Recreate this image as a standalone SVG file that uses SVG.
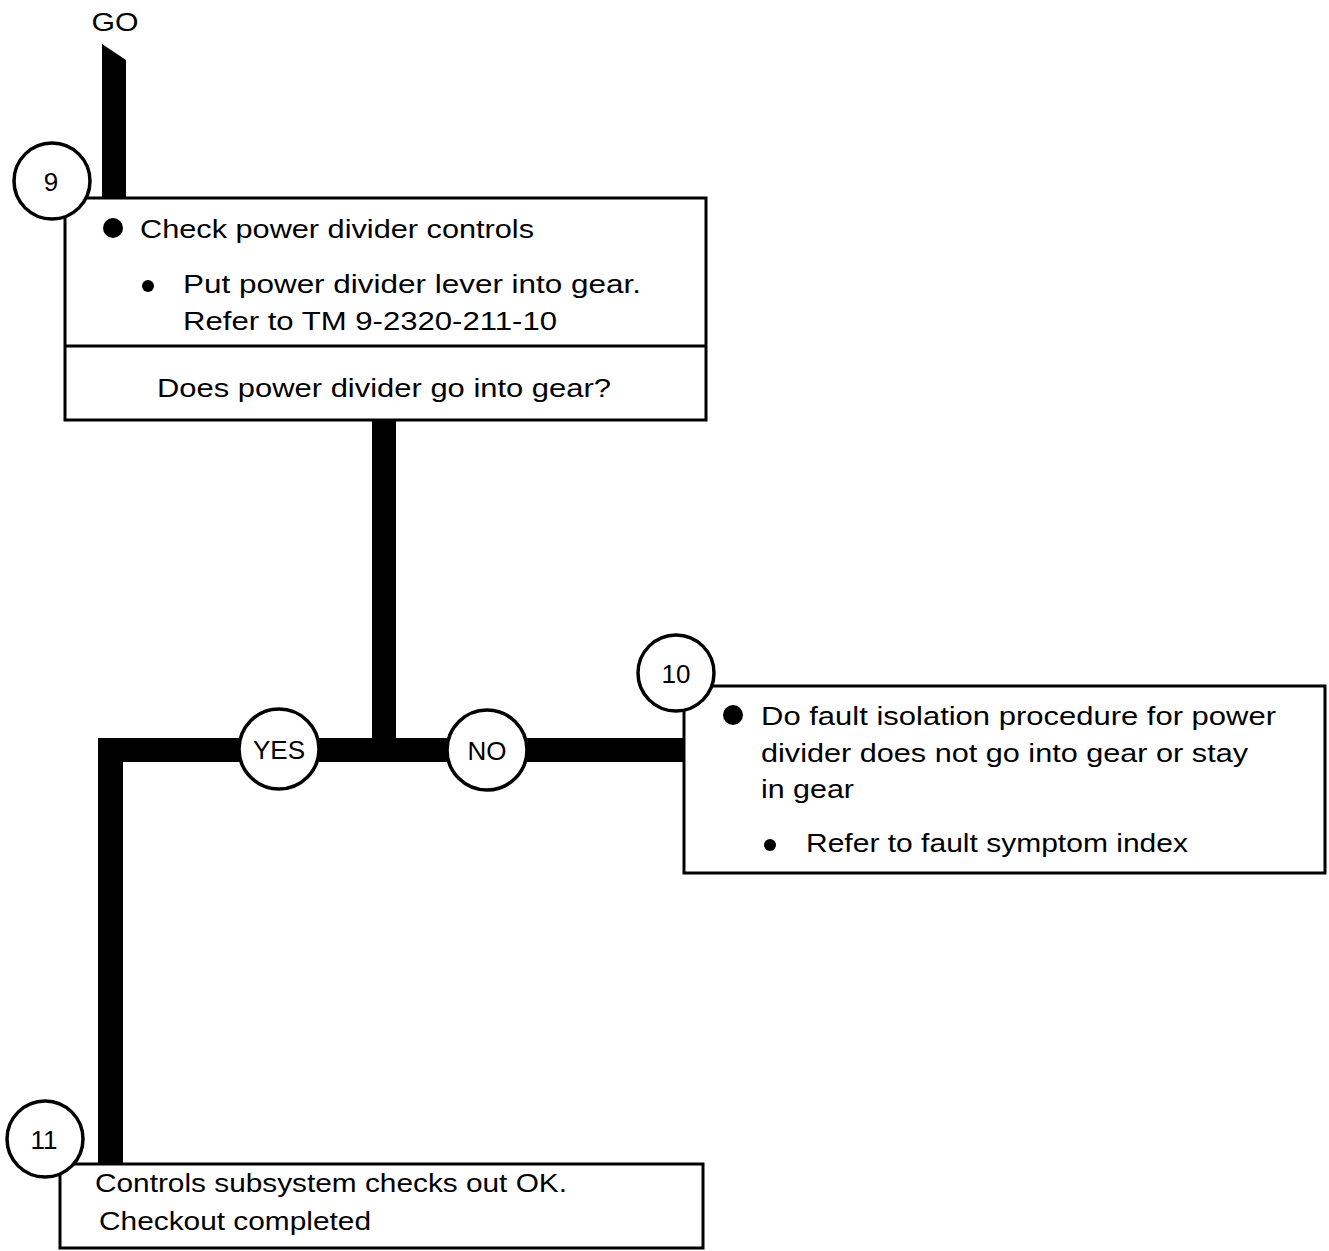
<svg xmlns="http://www.w3.org/2000/svg" width="1329" height="1251" viewBox="0 0 1329 1251">
<style>
.box{fill:#fff;stroke:#000;stroke-width:3}
.circ{fill:#fff;stroke:#000;stroke-width:3.5}
.t{font-family:"Liberation Sans",Arial,sans-serif;font-size:26px;fill:#000}
.c{font-family:"Liberation Sans",Arial,sans-serif;font-size:26px;fill:#000;text-anchor:middle}
.bar{fill:#000}
</style>
<rect width="1329" height="1251" fill="#fff"/>
<g id="connectors">
<polygon class="bar" points="102,44 126,60 126,198 102,198"/>
<rect class="bar" x="372" y="419" width="24" height="332"/>
<rect class="bar" x="98" y="738" width="588" height="24"/>
<rect class="bar" x="98" y="738" width="25" height="427"/>
</g>
<text class="c" x="115" y="31" textLength="47" lengthAdjust="spacingAndGlyphs">GO</text>
<g id="node9">
<rect class="box" x="65" y="198" width="641" height="222"/>
<line x1="65" y1="346" x2="706" y2="346" stroke="#000" stroke-width="3"/>
<circle class="circ" cx="52" cy="181" r="38"/>
<text class="c" x="51" y="191">9</text>
<circle cx="113" cy="228" r="10"/>
<text class="t" x="140" y="238" textLength="394" lengthAdjust="spacingAndGlyphs">Check power divider controls</text>
<circle cx="148" cy="286" r="6"/>
<text class="t" x="183" y="293" textLength="458" lengthAdjust="spacingAndGlyphs">Put power divider lever into gear.</text>
<text class="t" x="183" y="330" textLength="374" lengthAdjust="spacingAndGlyphs">Refer to TM 9-2320-211-10</text>
<text class="t" x="157" y="397" textLength="454" lengthAdjust="spacingAndGlyphs">Does power divider go into gear?</text>
</g>
<g id="yes">
<circle class="circ" cx="279" cy="749" r="40"/>
<text class="c" x="279" y="759">YES</text>
</g>
<g id="no">
<circle class="circ" cx="487" cy="750" r="40"/>
<text class="c" x="487" y="760">NO</text>
</g>
<g id="node10">
<rect class="box" x="684" y="686" width="641" height="187"/>
<circle class="circ" cx="676" cy="673" r="38"/>
<text class="c" x="676" y="683">10</text>
<circle cx="733" cy="715" r="10"/>
<text class="t" x="761" y="725" textLength="515" lengthAdjust="spacingAndGlyphs">Do fault isolation procedure for power</text>
<text class="t" x="761" y="762" textLength="487" lengthAdjust="spacingAndGlyphs">divider does not go into gear or stay</text>
<text class="t" x="761" y="798" textLength="93" lengthAdjust="spacingAndGlyphs">in gear</text>
<circle cx="770" cy="845" r="6"/>
<text class="t" x="806" y="852" textLength="382" lengthAdjust="spacingAndGlyphs">Refer to fault symptom index</text>
</g>
<g id="node11">
<rect class="box" x="60" y="1164" width="643" height="84"/>
<circle class="circ" cx="45" cy="1139" r="38"/>
<text class="c" x="44" y="1149">11</text>
<text class="t" x="95" y="1192" textLength="472" lengthAdjust="spacingAndGlyphs">Controls subsystem checks out OK.</text>
<text class="t" x="99" y="1230" textLength="272" lengthAdjust="spacingAndGlyphs">Checkout completed</text>
</g>
</svg>
